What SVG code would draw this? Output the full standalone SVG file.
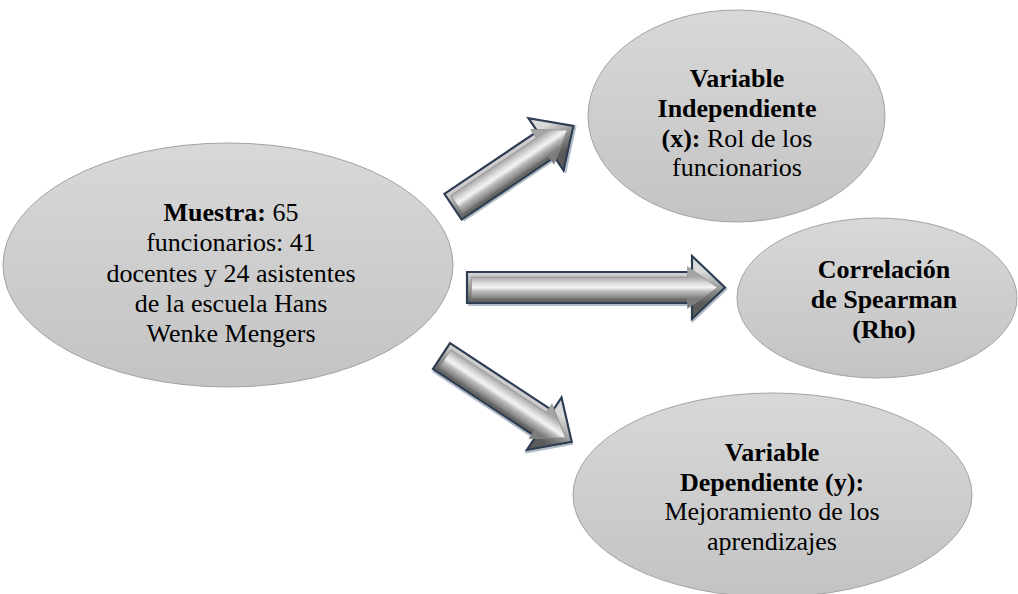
<svg xmlns="http://www.w3.org/2000/svg" width="1018" height="594" viewBox="0 0 1018 594">
  <defs>
    <linearGradient id="ellFill" x1="0" y1="0" x2="0" y2="1">
      <stop offset="0" stop-color="#d8d8d8"/>
      <stop offset="1" stop-color="#c3c3c3"/>
    </linearGradient>
    <linearGradient id="bevel" gradientUnits="userSpaceOnUse" x1="0" y1="-16" x2="0" y2="16">
      <stop offset="0" stop-color="#dadada"/>
      <stop offset="0.5" stop-color="#9c9c9c"/>
      <stop offset="1" stop-color="#5a5a5a"/>
    </linearGradient>
    <linearGradient id="face" gradientUnits="userSpaceOnUse" x1="0" y1="-11" x2="0" y2="11">
      <stop offset="0" stop-color="#a4a4a4"/>
      <stop offset="0.35" stop-color="#e2e2e2"/>
      <stop offset="0.5" stop-color="#f3f3f3"/>
      <stop offset="0.68" stop-color="#bababa"/>
      <stop offset="1" stop-color="#7c7c7c"/>
    </linearGradient>
  </defs>
  <style>
    .ell { fill: url(#ellFill); stroke: #a3a3a3; stroke-width: 1; }
    .t { font-family: "Liberation Serif", "Times New Roman", serif; font-size: 26px; fill: #000; text-anchor: middle; }
    .b { font-weight: bold; }
    .outer { fill: url(#bevel); stroke: #2f3d52; stroke-width: 2.2; stroke-linejoin: miter; }
    .inner { fill: url(#face); stroke: #8a8a8a; stroke-width: 0.6; }
    .shadow { fill: none; stroke: #7d8ea3; stroke-width: 2; opacity: 0.6; }
  </style>
  <rect width="1018" height="594" fill="#ffffff"/>

  <g id="node-muestra">
    <ellipse class="ell" cx="228" cy="265" rx="225" ry="122"/>
    <text class="t" x="231" y="221"><tspan class="b">Muestra:</tspan> 65</text>
    <text class="t" x="231" y="251">funcionarios: 41</text>
    <text class="t" x="231" y="281.5">docentes y 24 asistentes</text>
    <text class="t" x="231" y="312">de la escuela Hans</text>
    <text class="t" x="231" y="342">Wenke Mengers</text>
  </g>

  <g id="node-vi">
    <ellipse class="ell" cx="736.5" cy="116" rx="148.5" ry="106"/>
    <text class="t b" x="737" y="87">Variable</text>
    <text class="t b" x="737" y="117">Independiente</text>
    <text class="t" x="737" y="147"><tspan class="b">(x):</tspan> Rol de los</text>
    <text class="t" x="737" y="176">funcionarios</text>
  </g>

  <g id="node-corr">
    <ellipse class="ell" cx="877" cy="298" rx="140" ry="80"/>
    <text class="t b" x="884" y="278">Correlación</text>
    <text class="t b" x="884" y="308">de Spearman</text>
    <text class="t b" x="884" y="338">(Rho)</text>
  </g>

  <g id="node-vd">
    <ellipse class="ell" cx="772.5" cy="495" rx="199.5" ry="102"/>
    <text class="t b" x="772" y="461">Variable</text>
    <text class="t b" x="772" y="490.5">Dependiente (y):</text>
    <text class="t" x="772" y="520">Mejoramiento de los</text>
    <text class="t" x="772" y="549.5">aprendizajes</text>
  </g>

  <g id="connectors">
    <g transform="translate(453,206.7) rotate(-33.85)">
      <path class="shadow" d="M1,17.5 L113,17.5 L113,33.5 L147,1"/>
      <path class="outer" d="M0,-15.5 L112,-15.5 L112,-31.5 L145,0 L112,31.5 L112,15.5 L0,15.5 Z"/>
      <path class="inner" d="M4.5,-10.5 L107.5,-10.5 L107.5,-21 L137.5,0 L107.5,21 L107.5,10.5 L4.5,10.5 Z"/>
    </g>
    <g transform="translate(467,287.5)">
      <path class="shadow" d="M1,17.5 L226,17.5 L226,33.5 L260,1"/>
      <path class="outer" d="M0,-15.5 L225,-15.5 L225,-31.5 L258,0 L225,31.5 L225,15.5 L0,15.5 Z"/>
      <path class="inner" d="M4.5,-10.5 L220.5,-10.5 L220.5,-21 L250.5,0 L220.5,21 L220.5,10.5 L4.5,10.5 Z"/>
    </g>
    <g transform="translate(441.5,356) rotate(33.4)">
      <path class="shadow" d="M1,17.5 L124,17.5 L124,33.5 L158,1"/>
      <path class="outer" d="M0,-15.5 L123,-15.5 L123,-31.5 L156,0 L123,31.5 L123,15.5 L0,15.5 Z"/>
      <path class="inner" d="M4.5,-10.5 L118.5,-10.5 L118.5,-21 L148.5,0 L118.5,21 L118.5,10.5 L4.5,10.5 Z"/>
    </g>
  </g>
</svg>
